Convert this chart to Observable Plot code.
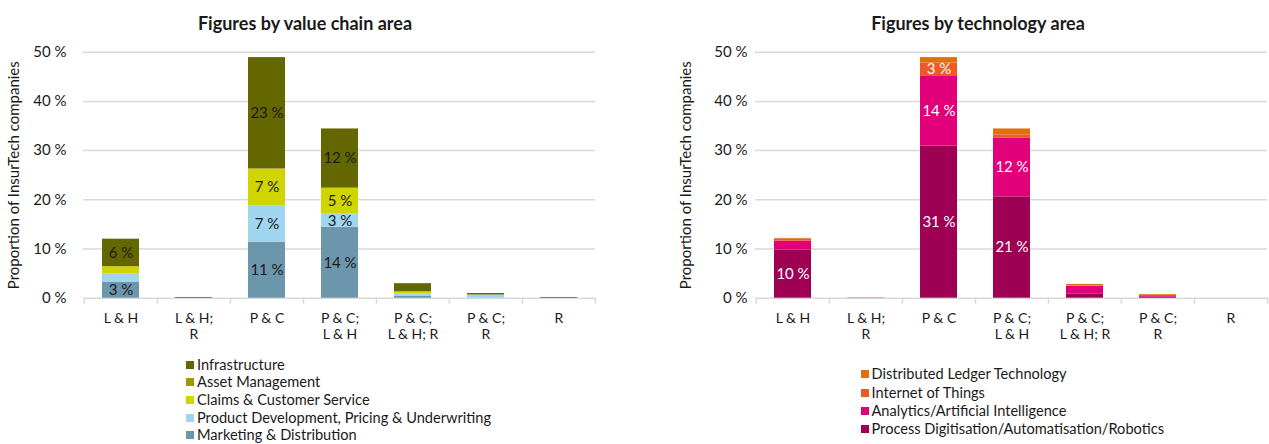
<!DOCTYPE html>
<html><head><meta charset="utf-8">
<script src="https://cdn.jsdelivr.net/npm/d3@7"></script>
<script src="https://cdn.jsdelivr.net/npm/@observablehq/plot@0.6"></script>
<style>
body{margin:0;background:#fff;font-family:Lato, sans-serif;color:#1a1a1a;}
#root{position:relative;width:1269px;height:444px;overflow:hidden;background:#fff;}
.title{position:absolute;top:15px;font-weight:bold;font-size:18px;line-height:16px;transform:translateX(-50%);white-space:nowrap;}
.legend{position:absolute;font-size:14.6px;line-height:16px;}
.legend .item{display:flex;align-items:center;white-space:nowrap;}
.legend .sw{width:8px;height:8px;margin-right:3px;flex:none;}
.chart{position:absolute;top:0;}
</style></head>
<body><div id="root"></div>
<script>
const categories = ["L & H", "L & H; R", "P & C", "P & C; L & H", "P & C; L & H; R", "P & C; R", "R"];
const categoryLabels = ["L & H", "L & H;\nR", "P & C", "P & C;\nL & H", "P & C;\nL & H; R", "P & C;\nR", "R"];
const yTicks = [0, 10, 20, 30, 40, 50];

// Value chain area (stack order bottom -> top), values in %
const valueChainSeries = ["Marketing & Distribution", "Product Development, Pricing & Underwriting", "Claims & Customer Service", "Asset Management", "Infrastructure"];
const valueChainColors = ["#6b96ab", "#9fd5ef", "#d0d500", "#999900", "#646600"];
const marketing      = [3.2, 0,    11.4, 14.4, 0.35, 0,    0];
const productDev     = [1.7, 0,    7.4,  2.7,  0.5,  0.65, 0];
const claims         = [1.5, 0,    7.4,  5.2,  0.4,  0,    0];
const assetMgmt      = [0,   0,    0.1,  0.2,  0.1,  0,    0];
const infrastructure = [5.6, 0.15, 22.6, 11.9, 1.6,  0.3,  0.15];

// Technology area (stack order bottom -> top), values in %
const techSeries = ["Process Digitisation/Automatisation/Robotics", "Analytics/Artificial Intelligence", "Internet of Things", "Distributed Ledger Technology"];
const techColors = ["#9e0054", "#e2007a", "#ee5a24", "#e0700f"];
const processDig = [9.8,  0.05, 30.9, 20.6, 0.8, 0.2,  0];
const analytics  = [1.8,  0,    14.3, 11.9, 1.6, 0.3,  0];
const iot        = [0.4,  0,    2.6,  0.7,  0.1, 0.1,  0];
const dlt        = [0.15, 0,    1.1,  1.2,  0.3, 0.15, 0];

const root = document.getElementById("root");

function makeChart({series, values, colors, labelFill, width, marginLeft, marginRight, tickPadding}) {
  const data = [];
  series.forEach((s, si) => categories.forEach((c, ci) => data.push({category: c, series: s, value: values[si][ci]})));
  const step = (width - marginLeft - marginRight) / categories.length;
  const labelOf = d => categoryLabels[categories.indexOf(d)];
  const gridStyle = {stroke: "#d9d9d9", strokeWidth: 1.5};
  return Plot.plot({
    width, height: 345, marginLeft, marginRight, marginTop: 51.7, marginBottom: 47.3,
    style: {fontFamily: "Lato, sans-serif", fontSize: "14px", color: "#1a1a1a", background: "white", overflow: "visible"},
    x: {domain: categories, paddingInner: 0.5, paddingOuter: 0.25},
    y: {domain: [0, 50]},
    color: {domain: series, range: colors},
    marks: [
      Plot.ruleY(yTicks, gridStyle),
      Plot.ruleX(categories, {x: d => d, y1: 0, y2: 0, dx: -step / 2, insetBottom: -6, ...gridStyle}),
      Plot.ruleX(categories.slice(-1), {x: d => d, y1: 0, y2: 0, dx: step / 2, insetBottom: -6, ...gridStyle}),
      Plot.barY(data, {x: "category", y: "value", fill: "series"}),
      Plot.text(data, Plot.stackY({x: "category", y: "value", z: "series",
        text: d => d.value >= 2.5 ? `${Math.round(d.value)} %` : "", fill: labelFill, fontSize: 15})),
      Plot.axisY({ticks: yTicks, tickSize: 0, tickPadding, tickFormat: d => `${d} %`,
        label: "Proportion of InsurTech companies", labelAnchor: "center", labelArrow: "none", labelOffset: 75, fontSize: 15}),
      Plot.axisX({tickSize: 0, tickPadding: 12.5, tickFormat: labelOf, label: null, fontSize: 14, lineHeight: 1.2})
    ]
  });
}

function addTitle(text, cx) {
  const t = document.createElement("div");
  t.className = "title"; t.textContent = text; t.style.left = cx + "px";
  root.appendChild(t);
}
function addLegend(series, colors, left, top, rowH) {
  const lg = document.createElement("div");
  lg.className = "legend"; lg.style.left = left + "px"; lg.style.top = top + "px";
  series.slice().reverse().forEach((s, i) => {
    const it = document.createElement("div"); it.className = "item"; it.style.height = rowH + "px";
    const sw = document.createElement("span"); sw.className = "sw"; sw.style.background = colors[series.length - 1 - i];
    const tx = document.createElement("span"); tx.textContent = s;
    it.appendChild(sw); it.appendChild(tx); lg.appendChild(it);
  });
  root.appendChild(lg);
}

const left = makeChart({series: valueChainSeries, values: [marketing, productDev, claims, assetMgmt, infrastructure],
  colors: valueChainColors, labelFill: "#1a1a1a", width: 634, marginLeft: 83, marginRight: 39, tickPadding: 17});
left.classList.add("chart"); left.style.left = "0px"; root.appendChild(left);

const right = makeChart({series: techSeries, values: [processDig, analytics, iot, dlt],
  colors: techColors, labelFill: "#ffffff", width: 635, marginLeft: 121, marginRight: 2, tickPadding: 8});
right.classList.add("chart"); right.style.left = "634px"; root.appendChild(right);

addTitle("Figures by value chain area", 305);
addTitle("Figures by technology area", 978);
addLegend(valueChainSeries, valueChainColors, 186, 356, 17.6);
addLegend(techSeries, techColors, 860.5, 365.2, 18.3);
</script>
</body></html>
